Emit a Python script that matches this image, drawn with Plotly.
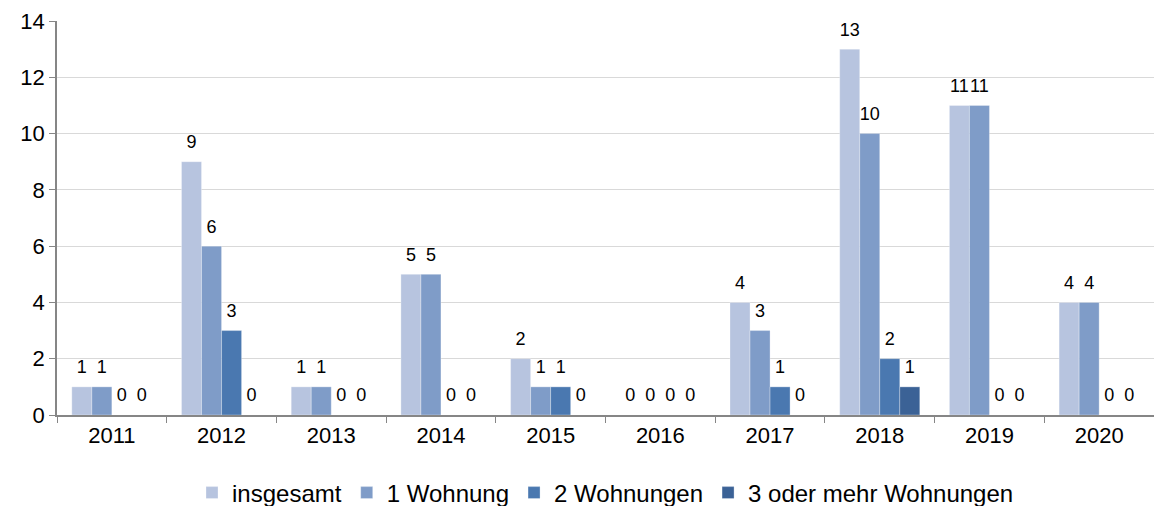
import plotly.graph_objects as go

years = ["2011", "2012", "2013", "2014", "2015", "2016", "2017", "2018", "2019", "2020"]
series_names = ["insgesamt", "1 Wohnung", "2 Wohnungen", "3 oder mehr Wohnungen"]
insgesamt = [1, 9, 1, 5, 2, 0, 4, 13, 11, 4]
eine_wohnung = [1, 6, 1, 5, 1, 0, 3, 10, 11, 4]
zwei_wohnungen = [0, 3, 0, 0, 1, 0, 1, 2, 0, 0]
drei_mehr = [0, 0, 0, 0, 0, 0, 0, 1, 0, 0]
colors = ["#B7C4DF", "#7F9CC8", "#4A78B0", "#3B6296"]

FONT = "Liberation Sans, Arial"
series = [insgesamt, eine_wohnung, zwei_wohnungen, drei_mehr]

fig = go.Figure()
for name, vals, col in zip(series_names, series, colors):
    fig.add_trace(go.Bar(
        x=years, y=vals, name=name,
        marker=dict(color=col, line=dict(color="rgba(255,255,255,0.6)", width=0.5)),
        hoverinfo="x+y+name",
    ))
# data labels: scatter text traces grouped like the bars
for name, vals in zip(series_names, series):
    fig.add_trace(go.Scatter(
        x=years, y=vals, mode="markers+text", name=name + " (Label)",
        text=[str(v) for v in vals], textposition="top center",
        textfont=dict(size=18, color="#000000", family=FONT),
        marker=dict(size=13, color="rgba(0,0,0,0)"),
        showlegend=False, hoverinfo="skip", cliponaxis=False,
    ))

fig.update_layout(
    width=1154, height=506,
    barmode="group", scattermode="group",
    bargap=0.27, bargroupgap=0, scattergap=0.27,
    plot_bgcolor="white", paper_bgcolor="white",
    margin=dict(l=57, r=0, t=21, b=91, autoexpand=False),
    font=dict(family=FONT, size=22, color="#000000"),
    showlegend=True,
    legend=dict(orientation="h", x=0.5, xanchor="center", y=-0.198, yanchor="middle",
                font=dict(size=24), itemwidth=30, traceorder="normal"),
)
fig.update_xaxes(
    type="category", showline=True, linecolor="#868686", linewidth=1.5,
    ticks="outside", tickson="boundaries", ticklen=6, tickcolor="#868686",
    showgrid=False, automargin=False, tickfont=dict(size=22),
)
fig.update_yaxes(
    range=[0, 14], dtick=2, showline=True, linecolor="#868686", linewidth=1.5,
    ticks="outside", ticklen=6, tickcolor="#868686",
    showgrid=True, gridcolor="#D9D9D9", gridwidth=1.2, zeroline=False,
    automargin=False, tickfont=dict(size=22),
)

fig.write_html("out.html", config={"displayModeBar": False},
               post_script="document.body.style.margin='0';document.body.style.overflow='hidden';")
